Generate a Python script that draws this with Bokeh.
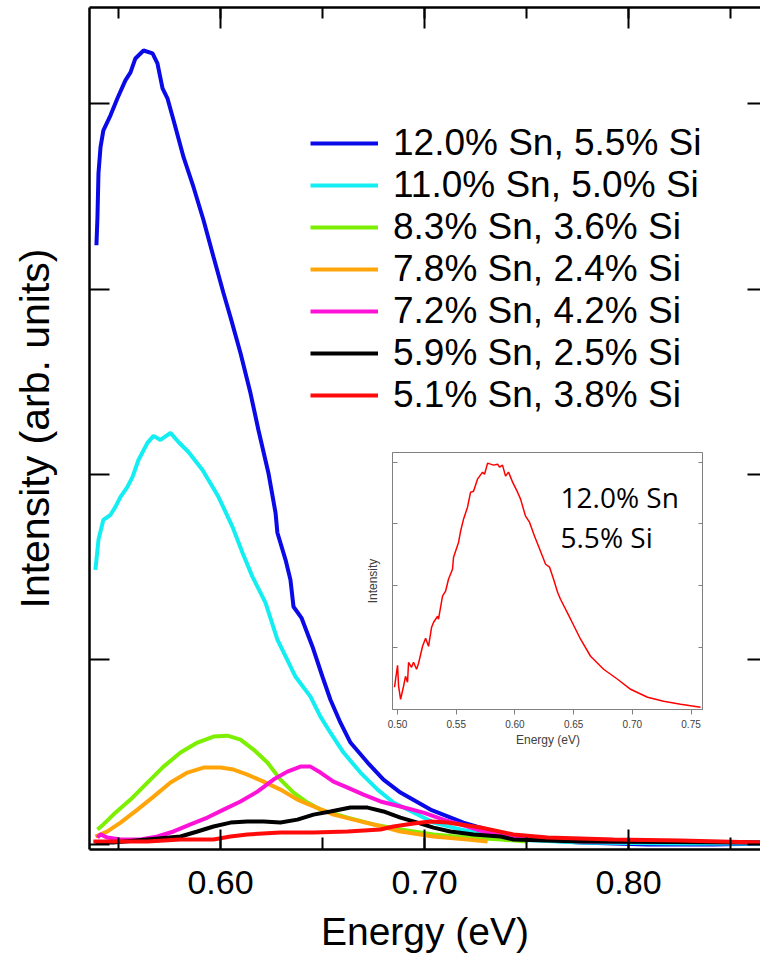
from bokeh.plotting import figure
from bokeh.models import (LinearAxis, SingleIntervalTicker, FixedTicker, PrintfTickFormatter,
                          Legend, LegendItem, Label, Range1d)
from bokeh.layouts import column
from bokeh.embed import file_html
from bokeh.resources import INLINE

# ---------------- data (energy in eV, intensity in arb. units) ----------------
labels = ["12.0% Sn, 5.5% Si", "11.0% Sn, 5.0% Si", "8.3% Sn, 3.6% Si", "7.8% Sn, 2.4% Si",
          "7.2% Sn, 4.2% Si", "5.9% Sn, 2.5% Si", "5.1% Sn, 3.8% Si"]
colors = ["#0a0ae8", "#12eef2", "#7cf000", "#ffa50a", "#ff12d8", "#000000", "#ff0a0a"]

e_sn120 = [0.5392, 0.5397, 0.5402, 0.5412, 0.5426, 0.5461, 0.5495, 0.5534, 0.5559, 0.5583, 0.5623,
           0.5667, 0.5691, 0.5716, 0.5740, 0.5770, 0.5819, 0.5868, 0.5917, 0.5966, 0.6015, 0.6049,
           0.6098, 0.6147, 0.6186, 0.6235, 0.6270, 0.6279, 0.6319, 0.6343, 0.6358, 0.6397, 0.6451,
           0.6500, 0.6539, 0.6588, 0.6637, 0.6721, 0.6799, 0.6882, 0.7029, 0.7191, 0.7358, 0.7520,
           0.7765, 0.8093, 0.8417, 0.8647]
i_sn120 = [3.237, 3.388, 3.625, 3.766, 3.857, 3.938, 4.030, 4.127, 4.170, 4.245, 4.288,
           4.272, 4.218, 4.084, 4.030, 3.911, 3.712, 3.550, 3.372, 3.173, 2.978, 2.849,
           2.655, 2.439, 2.240, 2.008, 1.792, 1.685, 1.539, 1.431, 1.286, 1.226, 1.070,
           0.908, 0.784, 0.660, 0.553, 0.445, 0.353, 0.283, 0.191, 0.121, 0.067, 0.030,
           0.013, 0.003, 0.003, 0.008]

e_sn110 = [0.5387, 0.5402, 0.5426, 0.5461, 0.5485, 0.5510, 0.5544, 0.5569, 0.5598, 0.5642, 0.5672,
           0.5706, 0.5755, 0.5794, 0.5843, 0.5912, 0.5990, 0.6059, 0.6108, 0.6157, 0.6221, 0.6279,
           0.6368, 0.6441, 0.6490, 0.6539, 0.6603, 0.6686, 0.6770, 0.6848, 0.6946, 0.7044, 0.7176,
           0.7309, 0.7436, 0.7765, 0.8255, 0.8647]
i_sn110 = [1.485, 1.647, 1.755, 1.782, 1.825, 1.879, 1.933, 1.987, 2.078, 2.170, 2.208,
           2.186, 2.224, 2.175, 2.121, 2.024, 1.879, 1.717, 1.577, 1.447, 1.307, 1.108,
           0.908, 0.801, 0.693, 0.606, 0.499, 0.391, 0.299, 0.229, 0.175, 0.121, 0.084,
           0.057, 0.030, 0.013, 0.008, 0.008]

e_sn83 = [0.5397, 0.5426, 0.5475, 0.5559, 0.5642, 0.5721, 0.5804, 0.5887, 0.5966, 0.6034, 0.6098,
          0.6162, 0.6230, 0.6294, 0.6358, 0.6426, 0.6490, 0.6623, 0.6750, 0.6882, 0.7044, 0.7211,
          0.7373, 0.7505]
i_sn83 = [0.084, 0.111, 0.164, 0.245, 0.337, 0.423, 0.499, 0.553, 0.585, 0.590, 0.569,
          0.515, 0.445, 0.353, 0.283, 0.229, 0.191, 0.148, 0.111, 0.084, 0.057, 0.040,
          0.030, 0.019]

e_sn78 = [0.5387, 0.5446, 0.5510, 0.5593, 0.5672, 0.5755, 0.5838, 0.5917, 0.6000, 0.6064, 0.6132,
          0.6211, 0.6294, 0.6377, 0.6456, 0.6554, 0.6652, 0.6750, 0.6882, 0.7044, 0.7211, 0.7309]
i_sn78 = [0.046, 0.073, 0.121, 0.191, 0.261, 0.337, 0.391, 0.418, 0.418, 0.407, 0.380,
          0.342, 0.299, 0.245, 0.208, 0.164, 0.137, 0.111, 0.073, 0.046, 0.030, 0.019]

e_sn72 = [0.5397, 0.5412, 0.5446, 0.5510, 0.5608, 0.5691, 0.5770, 0.5853, 0.5936, 0.6015, 0.6098,
          0.6181, 0.6260, 0.6328, 0.6392, 0.6441, 0.6490, 0.6554, 0.6623, 0.6701, 0.6784, 0.6882,
          0.6995, 0.7093, 0.7211, 0.7289, 0.7436, 0.7765, 0.8108, 0.8647]
i_sn72 = [0.040, 0.057, 0.040, 0.030, 0.030, 0.046, 0.073, 0.111, 0.148, 0.191, 0.235,
          0.288, 0.353, 0.396, 0.423, 0.423, 0.391, 0.342, 0.310, 0.272, 0.235, 0.208,
          0.175, 0.137, 0.100, 0.073, 0.040, 0.019, 0.019, 0.013]

e_sn59 = [0.5387, 0.5475, 0.5642, 0.5804, 0.5887, 0.5966, 0.6049, 0.6132, 0.6211, 0.6294, 0.6377,
          0.6456, 0.6539, 0.6637, 0.6721, 0.6799, 0.6882, 0.6966, 0.7044, 0.7127, 0.7240, 0.7373,
          0.7436, 0.7765, 0.8647]
i_sn59 = [0.013, 0.013, 0.030, 0.046, 0.073, 0.100, 0.121, 0.127, 0.127, 0.121, 0.137,
          0.164, 0.181, 0.202, 0.202, 0.181, 0.148, 0.121, 0.094, 0.073, 0.057, 0.046,
          0.030, 0.019, 0.013]

e_sn51 = [0.5377, 0.5475, 0.5642, 0.5804, 0.5966, 0.6049, 0.6132, 0.6294, 0.6456, 0.6623, 0.6784,
          0.6848, 0.6946, 0.7029, 0.7113, 0.7275, 0.7436, 0.7603, 0.7926, 0.8255, 0.8647]
i_sn51 = [0.019, 0.019, 0.019, 0.030, 0.030, 0.046, 0.057, 0.067, 0.067, 0.073, 0.084,
          0.100, 0.116, 0.127, 0.121, 0.094, 0.057, 0.040, 0.030, 0.024, 0.013]

energies = [e_sn120, e_sn110, e_sn83, e_sn78, e_sn72, e_sn59, e_sn51]
intensities = [i_sn120, i_sn110, i_sn83, i_sn78, i_sn72, i_sn59, i_sn51]

# inset: 12.0% Sn, 5.5% Si
inset_e = [0.4974, 0.5000, 0.5009, 0.5026, 0.5051, 0.5068, 0.5085, 0.5094, 0.5119, 0.5136, 0.5162,
           0.5179, 0.5213, 0.5239, 0.5264, 0.5290, 0.5307, 0.5341, 0.5349, 0.5383, 0.5409, 0.5434,
           0.5468, 0.5477, 0.5520, 0.5537, 0.5562, 0.5596, 0.5622, 0.5647, 0.5681, 0.5724, 0.5741,
           0.5767, 0.5792, 0.5818, 0.5852, 0.5869, 0.5894, 0.5920, 0.5945, 0.5980, 0.6022, 0.6048,
           0.6090, 0.6124, 0.6167, 0.6201, 0.6261, 0.6295, 0.6329, 0.6363, 0.6388, 0.6474, 0.6559,
           0.6644, 0.6755, 0.6874, 0.6985, 0.7129, 0.7266, 0.7411, 0.7581]
inset_i = [0.351, 0.708, 0.367, 0.156, 0.367, 0.529, 0.432, 0.756, 0.675, 0.756, 0.643,
           0.740, 1.016, 1.146, 1.016, 1.325, 1.406, 1.503, 1.455, 1.828, 1.909, 2.104,
           2.266, 2.461, 2.705, 2.883, 3.078, 3.273, 3.516, 3.532, 3.727, 3.841, 3.808,
           3.987, 3.971, 3.955, 3.971, 3.922, 3.955, 3.776, 3.841, 3.679, 3.516, 3.403,
           3.127, 3.029, 2.802, 2.640, 2.347, 2.299, 2.104, 1.893, 1.779, 1.455, 1.130,
           0.854, 0.643, 0.481, 0.318, 0.188, 0.123, 0.075, 0.026]
inset_text = ["12.0% Sn", "5.5% Si"]

main_ticks_y = [0, 1, 2, 3, 4]
inset_ticks_y = [1, 2, 3, 4]

FONT = "Liberation Sans"

# ---------------- main figure ----------------
p = figure(width=760, height=955, output_backend="svg", toolbar_location=None,
           x_range=Range1d(0.5358, 0.8647), y_range=Range1d(-0.0243, 4.520),
           min_border_left=89, min_border_right=0, min_border_top=7, min_border_bottom=105)
p.grid.visible = False
p.outline_line_color = None
p.background_fill_color = "white"
p.border_fill_color = "white"

xticker = SingleIntervalTicker(interval=0.1, num_minor_ticks=2)
yticker = FixedTicker(ticks=main_ticks_y)


def style_axis(ax, tin, mtin):
    ax.axis_line_color = "black"
    ax.axis_line_width = 2.5
    ax.major_tick_line_color = "black"
    ax.major_tick_line_width = 2
    ax.minor_tick_line_color = "black"
    ax.minor_tick_line_width = 2
    ax.major_tick_in = tin
    ax.major_tick_out = 0
    ax.minor_tick_in = mtin
    ax.minor_tick_out = 0


def hide_labels(ax):
    ax.major_label_text_font_size = "0px"
    ax.major_label_text_color = None
    ax.major_label_standoff = 0


xa = p.xaxis[0]
xa.ticker = xticker
xa.formatter = PrintfTickFormatter(format="%.2f")
style_axis(xa, 20, 12)
xa.major_label_text_font = FONT
xa.major_label_text_font_size = "34px"
xa.major_label_text_color = "black"
xa.major_label_standoff = 21
xa.axis_label = "Energy (eV)"
xa.axis_label_text_font = FONT
xa.axis_label_text_font_size = "39px"
xa.axis_label_text_font_style = "normal"
xa.axis_label_text_color = "black"
xa.axis_label_standoff = 13

ya = p.yaxis[0]
ya.ticker = yticker
style_axis(ya, 20, 0)
hide_labels(ya)
ya.axis_label = "Intensity (arb. units)"
ya.axis_label_text_font = FONT
ya.axis_label_text_font_size = "41px"
ya.axis_label_text_font_style = "normal"
ya.axis_label_text_color = "black"
ya.axis_label_standoff = 32

top = LinearAxis(ticker=xticker)
style_axis(top, 21, 11)
hide_labels(top)
p.add_layout(top, "above")

right = LinearAxis(ticker=yticker)
style_axis(right, 13, 0)
hide_labels(right)
right.axis_line_color = None
p.add_layout(right, "right")

items = []
for e, i, c, lab in zip(energies, intensities, colors, labels):
    r = p.line(e, i, line_color=c, line_width=4)
    items.append(LegendItem(label=lab, renderers=[r]))

legend = Legend(items=items, location=(221, 433), glyph_width=68, glyph_height=42,
                label_height=42, spacing=0, padding=0, margin=0, border_line_color=None,
                background_fill_alpha=0, label_standoff=15, label_text_font=FONT,
                label_text_font_size="37px", label_text_color="black")
p.add_layout(legend)

# ---------------- inset ----------------
# (inside a column the left border is shared with the main plot: 89 px)
q = figure(width=400, height=304, output_backend="svg", toolbar_location=None,
           x_range=Range1d(0.4957, 0.7606), y_range=Range1d(-0.01, 4.16),
           min_border_left=27, min_border_right=0, min_border_top=5, min_border_bottom=42)
q.grid.visible = False
q.outline_line_color = "#808080"
q.outline_line_width = 1
q.background_fill_color = "white"
q.border_fill_color = None
q.margin = (-508, 0, 0, 303)


def style_inset_axis(ax, tin, tout):
    ax.axis_line_color = "#808080"
    ax.axis_line_width = 1
    ax.major_tick_line_color = "#808080"
    ax.major_tick_line_width = 1
    ax.major_tick_in = tin
    ax.major_tick_out = tout
    ax.minor_tick_in = 0
    ax.minor_tick_out = 0


qx = q.xaxis[0]
qx.ticker = SingleIntervalTicker(interval=0.05, num_minor_ticks=0)
qx.formatter = PrintfTickFormatter(format="%.2f")
style_inset_axis(qx, 0, 5)
qx.major_label_text_font = FONT
qx.major_label_text_font_size = "10px"
qx.major_label_text_color = "#404040"
qx.major_label_standoff = 5
qx.axis_label = "Energy (eV)"
qx.axis_label_text_font = FONT
qx.axis_label_text_font_size = "12px"
qx.axis_label_text_font_style = "normal"
qx.axis_label_text_color = "#404040"
qx.axis_label_standoff = 2

qticker = FixedTicker(ticks=inset_ticks_y)
qy = q.yaxis[0]
qy.ticker = qticker
style_inset_axis(qy, 5, 0)
hide_labels(qy)
qy.axis_label = "Intensity"
qy.axis_label_text_font = FONT
qy.axis_label_text_font_size = "12px"
qy.axis_label_text_font_style = "normal"
qy.axis_label_text_color = "#404040"
qy.axis_label_standoff = 13

qr = LinearAxis(ticker=qticker)
style_inset_axis(qr, 5, 0)
hide_labels(qr)
q.add_layout(qr, "right")

q.line(inset_e, inset_i, line_color="#ff0000", line_width=1.5)

q.add_layout(Label(x=0.6388, y=3.434, text=inset_text[0], text_font="Open Sans",
                   text_font_size="28px", text_color="black", text_baseline="alphabetic"))
q.add_layout(Label(x=0.6388, y=2.785, text=inset_text[1], text_font="Open Sans",
                   text_font_size="28px", text_color="black", text_baseline="alphabetic"))

layout = column(p, q)
open("out.html", "w").write(file_html(layout, INLINE))
